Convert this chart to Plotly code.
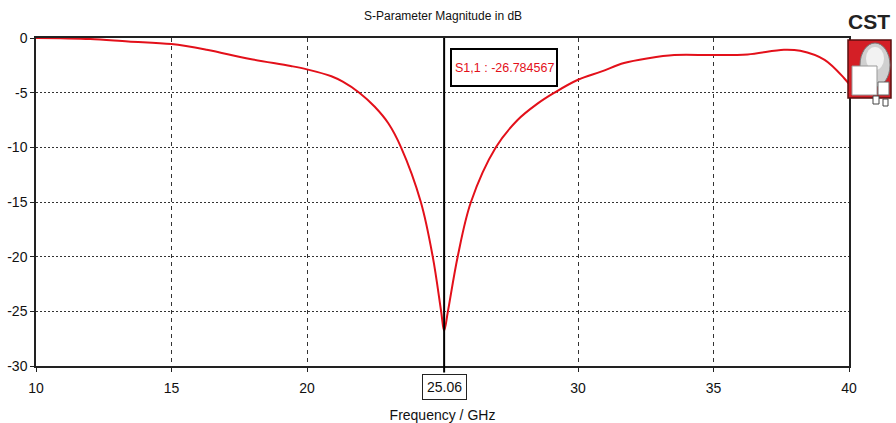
import plotly.graph_objects as go

# Data
freq_ghz = [10, 10.9, 12.0, 13.4, 15.0, 16.3, 17.9, 19.4, 20.0, 20.9, 21.32, 21.93, 22.5,
            23.0, 23.47, 24.2, 24.64, 24.95, 25.06, 25.2,
            25.56, 26.05, 26.97, 27.77, 28.48, 29.13, 30.0, 30.85, 31.7, 32.6, 33.55,
            35.0, 36.26, 37.6, 38.2, 39.1, 39.83, 40]
s11_db = [0, -0.03, -0.09, -0.31, -0.55, -1.07, -1.92, -2.56, -2.87, -3.5, -4.0, -5.0, -6.29,
          -7.8, -10, -15, -20, -25, -26.78, -25,
          -20, -15, -10, -7.5, -6.05, -5, -3.82, -3.08, -2.29, -1.85, -1.56,
          -1.56, -1.5, -1.07, -1.17, -2.0, -3.7, -4.2]

x_ticks = [10, 15, 20, 30, 35, 40]
y_ticks = [0, -5, -10, -15, -20, -25, -30]
marker_freq = 25.06
marker_label = "S1,1 : -26.784567"
title_text = "S-Parameter Magnitude in dB"
x_title = "Frequency / GHz"

FONT = "Liberation Sans, Arial, sans-serif"

W, H = 896, 423
ML, MR, MT, MB = 36, 47, 38, 57
PW, PH = W - ML - MR, H - MT - MB


def px(xp):
    return (xp - ML) / PW


def py(yp):
    return (H - MB - yp) / PH


fig = go.Figure()
fig.add_trace(go.Scatter(
    x=freq_ghz, y=s11_db, mode="lines",
    line=dict(color="#e3101a", width=2, shape="spline", smoothing=1.0),
    hoverinfo="x+y", showlegend=False,
))


def rect(x0, x1, y0, y1, fill, line_color, lw=1, kind="rect", layer="above"):
    return dict(type=kind, xref="paper", yref="paper", x0=px(x0), x1=px(x1),
                y0=py(y1), y1=py(y0), fillcolor=fill,
                line=dict(color=line_color, width=lw), layer=layer)


shapes = [
    # marker line
    dict(type="line", xref="x", yref="paper", x0=marker_freq, x1=marker_freq,
         y0=-0.02, y1=1, line=dict(color="black", width=2)),
    # marker value box
    rect(451, 557, 49, 86, "white", "black", 2),
    # CST logo
    rect(848, 891, 40, 98, "#d41f26", "#5a1010", 1.5),
    rect(860, 890, 43, 87, "#d0d0d0", "#777", 1, kind="circle"),
    rect(866, 884, 47, 70, "#f2f2f2", "#f2f2f2", 0, kind="circle"),
    rect(852, 877, 66, 95, "white", "#999", 1),
    rect(878, 889, 82, 95, "white", "#666", 1),
    rect(873, 879, 96, 104, "white", "#444", 1),
    rect(883, 888, 99, 106, "white", "#444", 1),
]

annotations = [
    dict(text=title_text, xref="paper", yref="paper", x=px(443), y=py(16),
         showarrow=False, font=dict(family=FONT, size=12, color="#111"),
         xanchor="center", yanchor="middle"),
    dict(text=marker_label, xref="paper", yref="paper", x=px(504), y=py(67.5),
         showarrow=False, font=dict(family=FONT, size=12.5, color="#e3101a"),
         xanchor="center", yanchor="middle"),
    dict(text=f"{marker_freq:.2f}", xref="x", yref="paper", x=marker_freq, y=py(386.5),
         showarrow=False, font=dict(family=FONT, size=14, color="#111"),
         xanchor="center", yanchor="middle", bordercolor="#222", borderwidth=1,
         borderpad=4, bgcolor="white"),
    dict(text="<b>CST</b>", xref="paper", yref="paper", x=px(869), y=py(21),
         showarrow=False, font=dict(family=FONT, size=21, color="#222"),
         xanchor="center", yanchor="middle"),
]

fig.update_layout(
    width=W, height=H,
    margin=dict(l=ML, r=MR, t=MT, b=MB),
    paper_bgcolor="white", plot_bgcolor="white",
    font=dict(family=FONT, size=14, color="#111"),
    shapes=shapes, annotations=annotations,
    showlegend=False,
)
fig.update_xaxes(
    range=[10, 40], tickvals=x_ticks, ticktext=[str(v) for v in x_ticks],
    showgrid=True, gridcolor="#333", griddash="4px,4px", gridwidth=1,
    showline=True, linecolor="#222", linewidth=1.5, mirror=True,
    ticks="outside", ticklen=4, tickcolor="#222", ticklabelstandoff=4,
    tickfont=dict(family=FONT, size=14),
    title=dict(text=x_title, font=dict(family=FONT, size=14), standoff=18),
    zeroline=False, fixedrange=True, automargin=False,
)
fig.update_yaxes(
    range=[-30, 0], tickvals=y_ticks, ticktext=[str(v) for v in y_ticks],
    showgrid=True, gridcolor="#333", griddash="2px,2px", gridwidth=1,
    showline=True, linecolor="#222", linewidth=1.5, mirror=True,
    ticks="outside", ticklen=4, tickcolor="#222",
    tickfont=dict(family=FONT, size=14),
    zeroline=False, fixedrange=True, automargin=False,
)

fig.write_html("out.html", config={"displayModeBar": False},
               post_script="document.body.style.margin='0';")
